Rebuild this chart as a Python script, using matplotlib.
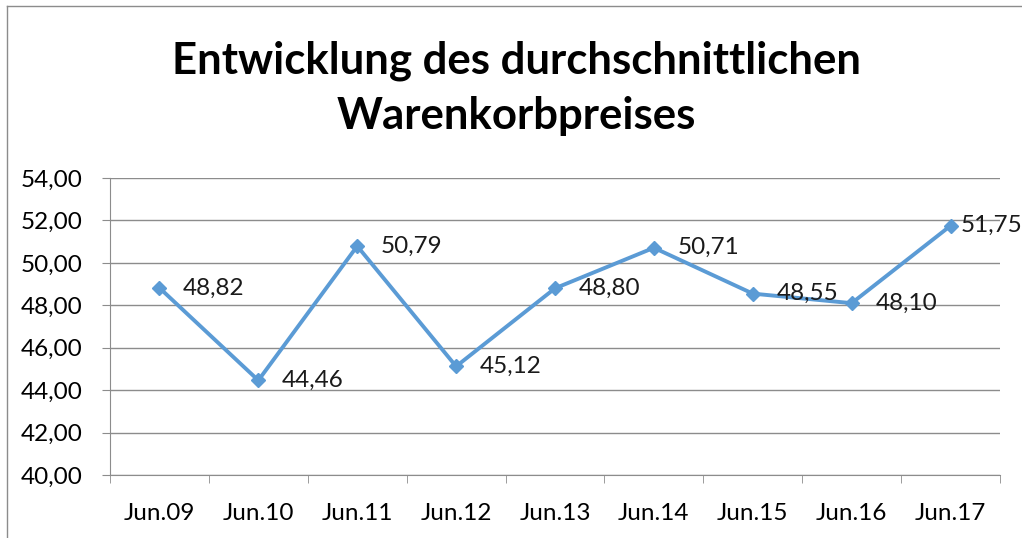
import matplotlib.pyplot as plt
from matplotlib.lines import Line2D

categories = ["Jun.09", "Jun.10", "Jun.11", "Jun.12", "Jun.13",
              "Jun.14", "Jun.15", "Jun.16", "Jun.17"]
values = [48.82, 44.46, 50.79, 45.12, 48.80, 50.71, 48.55, 48.10, 51.75]
yticks = [40, 42, 44, 46, 48, 50, 52, 54]
title = "Entwicklung des durchschnittlichen\nWarenkorbpreises"

plt.rcParams['font.family'] = ['Lato', 'DejaVu Sans']

fig = plt.figure(figsize=(10.22, 5.38), dpi=100)
ax = fig.add_axes([110 / 1022, 1 - 475 / 538, 890 / 1022, 297 / 538])

x = list(range(len(categories)))
ax.plot(x, values, color="#5B9BD5", lw=2.8, marker="D", ms=7, zorder=3)

for xi, v in zip(x, values):
    # last label is pushed closer so it stays inside the chart
    dx = 7 if xi == len(x) - 1 else 17
    ax.annotate(f"{v:.2f}".replace(".", ","), (xi, v), xytext=(dx, 0),
                textcoords="offset points", va="center", ha="left",
                fontsize=17.5, color="#1a1a1a")

ax.set_xlim(-0.5, len(categories) - 0.5)
ax.set_ylim(40, 54)
ax.set_yticks(yticks)
ax.set_yticklabels([f"{t:.2f}".replace(".", ",") for t in yticks])
ax.set_xticks(x)
ax.set_xticklabels(categories)
ax.set_xticks([i - 0.5 for i in range(len(categories) + 1)], minor=True)
ax.tick_params(axis="x", which="major", length=0, pad=20, labelsize=17.5)
ax.tick_params(axis="x", which="minor", length=6, color="#8c8c8c")
ax.tick_params(axis="y", length=6, color="#8c8c8c", labelsize=17.5, pad=14)
ax.grid(axis="y", color="#8c8c8c", lw=1)
ax.set_axisbelow(True)
for s in ["top", "right"]:
    ax.spines[s].set_visible(False)
for s in ["left", "bottom"]:
    ax.spines[s].set_color("#8c8c8c")

fig.text(0.505, 1 - 88 / 538, title, ha="center", va="center",
         fontsize=31.5, fontweight="bold", linespacing=1.45)

# chart frame
fig.add_artist(Line2D([7 / 1022, 7 / 1022], [0, 1 - 6 / 538],
                      transform=fig.transFigure, color="#8c8c8c", lw=1))
fig.add_artist(Line2D([7 / 1022, 1], [1 - 6 / 538, 1 - 6 / 538],
                      transform=fig.transFigure, color="#8c8c8c", lw=1))

fig.savefig("out.png", dpi=100)
